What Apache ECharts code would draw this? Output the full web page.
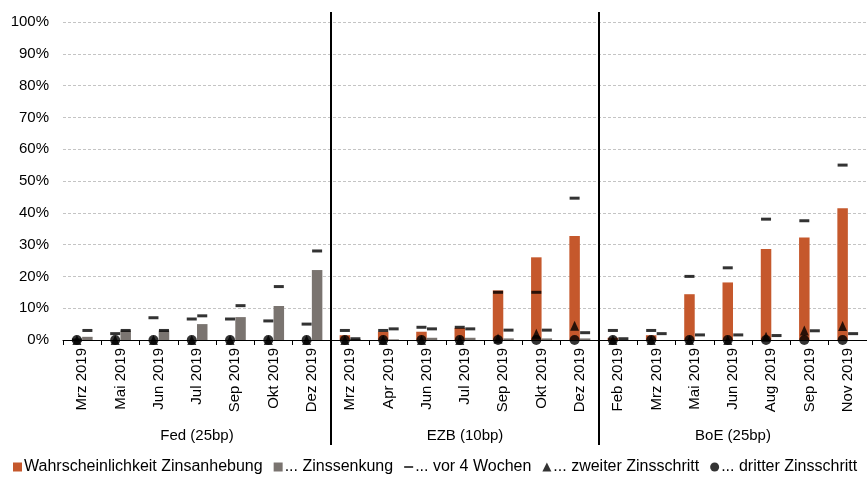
<!DOCTYPE html>
<html>
<head>
<meta charset="utf-8">
<script src="https://cdn.jsdelivr.net/npm/echarts@6/dist/echarts.min.js"></script>
<style>
  html, body { margin: 0; padding: 0; background: #fff; }
  #chart { width: 867px; height: 477px; }
</style>
</head>
<body>
<div id="chart"></div>
<script>
// Month labels per central bank
const groups = ['Fed (25bp)', 'EZB (10bp)', 'BoE (25bp)'];
const fedMonths = ['Mrz 2019', 'Mai 2019', 'Jun 2019', 'Jul 2019', 'Sep 2019', 'Okt 2019', 'Dez 2019'];
const ezbMonths = ['Mrz 2019', 'Apr 2019', 'Jun 2019', 'Jul 2019', 'Sep 2019', 'Okt 2019', 'Dez 2019'];
const boeMonths = ['Feb 2019', 'Mrz 2019', 'Mai 2019', 'Jun 2019', 'Aug 2019', 'Sep 2019', 'Nov 2019'];
const categories = fedMonths.concat(ezbMonths, boeMonths);

// Probabilities in percent (Fed | EZB | BoE)
const hikeProb = [0, 0, 0, 0, 0, 0, 0,
                  1.5, 2.6, 2.6, 3.8, 15.6, 26, 32.7,
                  0.7, 1.5, 14.4, 18.1, 28.6, 32.2, 41.4];
const cutProb = [1, 3, 3, 5, 7.2, 10.7, 22,
                 0.3, 0.2, 0.7, 0.7, 0.5, 0.5, 0.5,
                 0, 0, 0, 0, 0, 0, 0];
const hikeProb4w = [0, 2, 7, 6.6, 6.6, 6, 5,
                    3, 3, 4, 4, 15, 15, 44.6,
                    3, 3, 20, 22.7, 38, 37.5, 55];
const cutProb4w = [3, 3, 3, 7.6, 10.8, 16.8, 28,
                   0.4, 3.5, 3.5, 3.5, 3.1, 3.1, 2.3,
                   0.4, 2, 1.6, 1.6, 1.4, 2.9, 2];
const secondStep = [0, 0, 0, 0, 0, 0, 0,
                    0, 0, 0, 0, 0.5, 2, 4.5,
                    0, 0, 0, 0, 1, 3, 4.4];
const thirdStep = [0, 0, 0, 0, 0, 0, 0,
                   0, 0, 0, 0, 0, 0, 0,
                   0, 0, 0, 0, 0, 0, 0];
const yTicks = [0, 10, 20, 30, 40, 50, 60, 70, 80, 90, 100];

const ORANGE = '#C5582C';
const GREY = '#7A7470';
const FONT = 'Liberation Sans, Arial, sans-serif';
const BAR_W = 10.5;
const HALF = BAR_W / 2;
const DASH = 'path://M0,0H10V3H0Z';

const chart = echarts.init(document.getElementById('chart'), null, { renderer: 'canvas' });

const option = {
  animation: false,
  textStyle: { fontFamily: FONT },
  grid: { left: 63, right: -3, top: 22, bottom: 137, containLabel: false },
  legend: {
    left: 8,
    bottom: -3,
    itemWidth: 9,
    itemHeight: 9,
    itemGap: 11,
    textStyle: { fontFamily: FONT, fontSize: 16, color: '#000', padding: [0, 0, 0, -3] },
    data: [
      { name: 'Wahrscheinlichkeit Zinsanhebung', icon: 'rect' },
      { name: '... Zinssenkung', icon: 'rect' },
      { name: '... vor 4 Wochen', icon: 'path://M0,4H10V6H0Z' },
      { name: '... zweiter Zinsschritt', icon: 'triangle' },
      { name: '... dritter Zinsschritt', icon: 'circle' }
    ]
  },
  xAxis: {
    type: 'category',
    data: categories,
    axisLine: { lineStyle: { color: '#000', width: 1 } },
    axisTick: { show: true, alignWithLabel: false, length: 5, lineStyle: { color: '#000' } },
    axisLabel: { rotate: 90, fontSize: 15, color: '#000', margin: 8, interval: 0 }
  },
  yAxis: {
    type: 'value',
    min: yTicks[0],
    max: yTicks[yTicks.length - 1],
    interval: yTicks[1] - yTicks[0],
    axisLine: { show: false },
    axisTick: { show: false },
    axisLabel: { formatter: '{value}%', fontSize: 15, color: '#000', margin: 14 },
    splitLine: { lineStyle: { color: '#C4C4C4', type: [3, 2], width: 1 } }
  },
  series: [
    {
      name: 'Wahrscheinlichkeit Zinsanhebung',
      type: 'bar',
      data: hikeProb,
      barWidth: BAR_W,
      barGap: '0%',
      itemStyle: { color: ORANGE },
      z: 2
    },
    {
      name: '... Zinssenkung',
      type: 'bar',
      data: cutProb,
      barWidth: BAR_W,
      barGap: '0%',
      itemStyle: { color: GREY },
      z: 2
    },
    {
      name: '... vor 4 Wochen',
      type: 'scatter',
      data: hikeProb4w,
      symbol: DASH,
      symbolSize: [10, 3],
      symbolOffset: [-HALF, 0],
      itemStyle: { color: '#000' },
      z: 3
    },
    {
      name: '... vor 4 Wochen',
      type: 'scatter',
      data: cutProb4w,
      symbol: DASH,
      symbolSize: [10, 3],
      symbolOffset: [HALF, 0],
      itemStyle: { color: '#000' },
      z: 3
    },
    {
      name: '... zweiter Zinsschritt',
      type: 'scatter',
      data: secondStep,
      symbol: 'triangle',
      symbolSize: [9, 10],
      symbolOffset: [-HALF, 0],
      itemStyle: { color: '#000' },
      z: 4
    },
    {
      name: '... dritter Zinsschritt',
      type: 'scatter',
      data: thirdStep,
      symbol: 'circle',
      symbolSize: 10,
      symbolOffset: [-HALF, 0],
      itemStyle: { color: '#000' },
      z: 5
    }
  ]
};

chart.setOption(option);

// Group separators and group titles placed from the category scale
const perGroup = fedMonths.length;
const x0 = chart.convertToPixel({ xAxisIndex: 0 }, 0);
const x1 = chart.convertToPixel({ xAxisIndex: 0 }, 1);
const step = x1 - x0;
const graphics = [];
for (let g = 0; g < groups.length; g++) {
  const first = chart.convertToPixel({ xAxisIndex: 0 }, g * perGroup);
  const last = chart.convertToPixel({ xAxisIndex: 0 }, g * perGroup + perGroup - 1);
  graphics.push({
    type: 'text',
    x: (first + last) / 2,
    y: 436,
    style: {
      text: groups[g],
      fontFamily: FONT,
      fontSize: 15,
      fill: '#000',
      align: 'center',
      verticalAlign: 'middle'
    }
  });
  if (g > 0) {
    const xs = Math.round(first - step / 2);
    graphics.push({
      type: 'line',
      shape: { x1: xs, y1: 12, x2: xs, y2: 445 },
      style: { stroke: '#000', lineWidth: 2 },
      z: 10
    });
  }
}
chart.setOption({ graphic: graphics });
</script>
</body>
</html>
